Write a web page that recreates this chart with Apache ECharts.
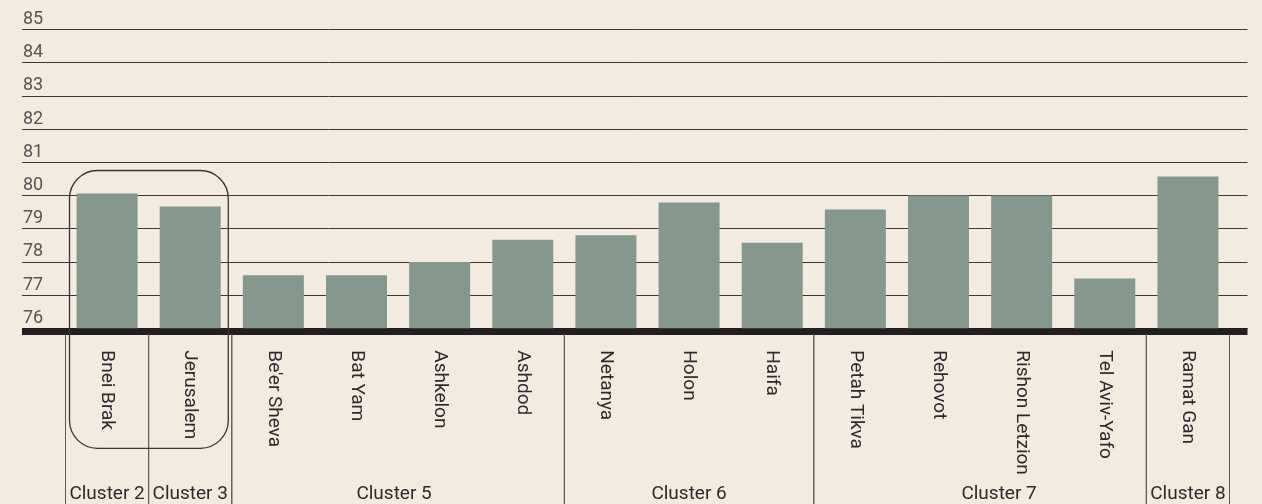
<!DOCTYPE html>
<html>
<head>
<meta charset="utf-8">
<script src="https://cdn.jsdelivr.net/npm/echarts@6/dist/echarts.min.js"></script>
<style>
html,body{margin:0;padding:0;background:#f3ebe0;}
#main{width:1262px;height:504px;}
</style>
</head>
<body>
<div id="main"></div>
<script>
var cities = ['Bnei Brak','Jerusalem',"Be'er Sheva",'Bat Yam','Ashkelon','Ashdod','Netanya','Holon','Haifa','Petah Tikva','Rehovot','Rishon Letzion','Tel Aviv-Yafo','Ramat Gan'];
var values = [80.06, 79.67, 77.6, 77.6, 78.0, 78.67, 78.8, 79.79, 78.58, 79.58, 80.0, 80.0, 77.5, 80.57];
// cluster ranges: first and last city index
var clusterNames = ['Cluster 2','Cluster 3','Cluster 5','Cluster 6','Cluster 7','Cluster 8'];
var clusterStart = [0, 1, 2, 6, 9, 13];
var clusterEnd = [0, 1, 5, 8, 12, 13];
var yMin = 76, yMax = 85;
var highlighted = [0, 1];

var clusterData = clusterNames.map(function (n, i) {
	return [clusterStart[i], clusterEnd[i], n];
});
var labelShift = {'Cluster 5': -4, 'Cluster 7': 19};

/*绘制图表*/
function draw(){
	var myChart = echarts.init(document.getElementById('main'));
	var option = {
		backgroundColor: '#f3ebe0',
		animation: false,
		grid: [
			{left: 22, right: 14.5, top: 29.5, bottom: 175.7},
			{left: 65.5, right: 32.5, top: 29.5, bottom: 175.7}
		],
		xAxis: [
			{
				gridIndex: 0, type: 'value', min: 0, max: 1, offset: 3,
				axisLine: {show: true, lineStyle: {color: '#231f20', width: 7, cap: 'butt'}},
				axisTick: {show: false}, axisLabel: {show: false}, splitLine: {show: false}
			},
			{
				gridIndex: 1, type: 'category', data: cities,
				axisLine: {show: false}, axisTick: {show: false},
				axisLabel: {
					rotate: -90, margin: 22, interval: 0,
					fontFamily: 'Roboto', fontSize: 19, color: '#2b2b2b'
				}
			}
		],
		yAxis: [
			{
				gridIndex: 0, type: 'value', min: yMin, max: yMax, interval: 1,
				axisLine: {show: false}, axisTick: {show: false},
				axisLabel: {
					inside: true, margin: 1, verticalAlign: 'bottom', padding: [0, 0, 1, 0],
					fontFamily: 'Roboto', fontSize: 18, color: '#555'
				},
				splitLine: {show: true, lineStyle: {color: '#3d3838', width: 1}}
			},
			{gridIndex: 1, type: 'value', min: yMin, max: yMax, show: false}
		],
		series: [
			{
				type: 'bar', xAxisIndex: 1, yAxisIndex: 1,
				data: values, barWidth: 61,
				itemStyle: {color: '#84988e'}
			},
			{
				// cluster separators and names
				type: 'custom', xAxisIndex: 1, yAxisIndex: 1, clip: false,
				data: clusterData,
				renderItem: function (params, api) {
					var band = api.size([1, 0])[0];
					var s = api.value(0), e = api.value(1);
					var xl = api.coord([s, yMin])[0] - band / 2;
					var xr = api.coord([e, yMin])[0] + band / 2;
					var base = api.coord([s, yMin])[1];
					var name = clusterNames[params.dataIndex];
					var lineStyle = {stroke: '#5e5a57', lineWidth: 1};
					return {
						type: 'group',
						children: [
							{type: 'line', shape: {x1: xl, y1: base + 6, x2: xl, y2: 504}, style: lineStyle},
							{type: 'line', shape: {x1: xr, y1: base + 6, x2: xr, y2: 504}, style: lineStyle},
							{type: 'text', style: {
								text: name, x: (xl + xr) / 2 + (labelShift[name] || 0), y: 494,
								align: 'center', verticalAlign: 'middle',
								fontFamily: 'Roboto', fontSize: 19, fill: '#2b2b2b'
							}}
						]
					};
				}
			},
			{
				// rounded outline round the highlighted cities
				type: 'custom', xAxisIndex: 1, yAxisIndex: 1, clip: false,
				data: [highlighted],
				renderItem: function (params, api) {
					var band = api.size([1, 0])[0];
					var a = api.value(0), b = api.value(1);
					var x0 = api.coord([a, yMin])[0] - band / 2 + 4;
					var x1 = api.coord([b, yMin])[0] + band / 2 - 3.5;
					var top = Math.min(api.coord([a, values[a]])[1], api.coord([b, values[b]])[1]) - 23;
					var bottom = api.coord([a, yMin])[1] + 120;
					return {
						type: 'rect',
						shape: {x: x0, y: top, width: x1 - x0, height: bottom - top, r: 28},
						style: {fill: null, stroke: '#3a3535', lineWidth: 1.3}
					};
				}
			}
		]
	};
	myChart.setOption(option);
}
draw();
</script>
</body>
</html>
